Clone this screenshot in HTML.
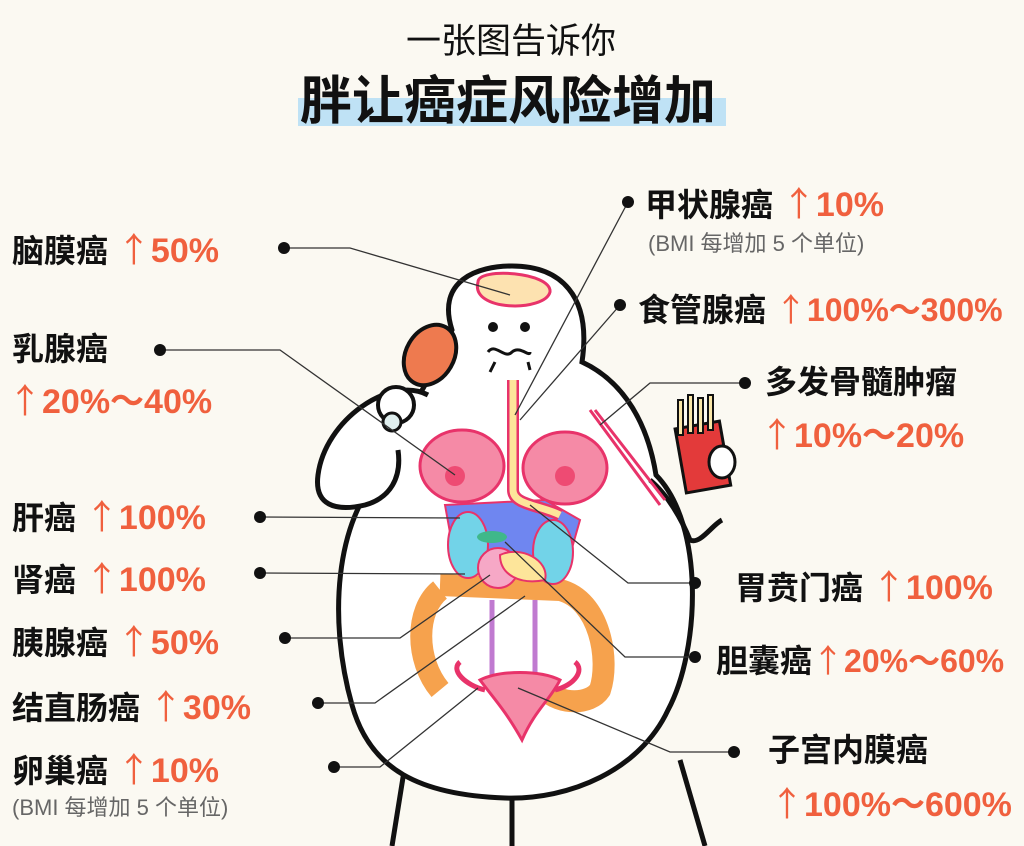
<!DOCTYPE html>
<html><head><meta charset="utf-8"><style>
body{margin:0;background:#fbf9f2;}
.w{position:relative;width:1024px;height:846px;overflow:hidden;font-family:"Liberation Sans","Noto Sans CJK SC",sans-serif;}
.t{position:absolute;white-space:nowrap;font-weight:bold;color:#111;font-size:32px;line-height:1;}
.o{color:#f0603e;font-size:34px;}
.a{font-family:"Noto Sans CJK SC",sans-serif;font-weight:normal;}
.s{position:absolute;white-space:nowrap;color:#666;font-size:22px;line-height:1;}
svg{position:absolute;left:0;top:0;}
</style></head><body><div class="w">
<svg width="1024" height="846" viewBox="0 0 1024 846">
<rect x="298" y="98" width="428" height="28" fill="#bfe2f5"/>
<path d="M405 765 L392 846 M680 760 L705 846 M512 795 L512 846" stroke="#111" stroke-width="5" fill="none"/>
<path d="M452 330 C436 280 478 266 512 266 C560 266 592 295 582 362 C625 382 648 425 656 475 C705 525 700 650 668 710 C640 770 570 800 505 798 C420 795 370 770 352 705 C328 620 335 520 383 472 C398 420 428 390 452 330 Z" fill="#fff" stroke="#111" stroke-width="5"/>
<path d="M428 395 C390 375 325 420 318 475 C314 505 335 512 365 505 C390 498 402 478 398 450" fill="#fff" stroke="#111" stroke-width="5"/>
<circle cx="396" cy="405" r="18" fill="#fff" stroke="#111" stroke-width="4"/>
<circle cx="392" cy="422" r="9" fill="#dfeeee" stroke="#111" stroke-width="3"/>
<ellipse cx="430" cy="355" rx="24" ry="32" transform="rotate(30 430 355)" fill="#ee7a4f" stroke="#111" stroke-width="4"/>
<path d="M650 480 C668 495 682 520 690 540 C700 545 712 525 722 520" fill="none" stroke="#111" stroke-width="5"/>
<rect x="680" y="425" width="45" height="65" transform="rotate(-10 700 455)" fill="#e33a3a" stroke="#111" stroke-width="3"/>
<g stroke="#111" stroke-width="2" fill="#f9e6a8"><rect x="678" y="400" width="5" height="35"/><rect x="688" y="395" width="5" height="38"/><rect x="698" y="398" width="5" height="35"/><rect x="708" y="395" width="5" height="35"/></g>
<ellipse cx="722" cy="462" rx="13" ry="16" fill="#fff" stroke="#111" stroke-width="3"/>
<path d="M478 282 C470 312 545 312 550 292 C552 272 478 267 478 282 Z" fill="#fde2b0" stroke="#e8336a" stroke-width="3"/>
<circle cx="493" cy="327" r="5" fill="#111"/><circle cx="525" cy="327" r="5" fill="#111"/>
<path d="M488 352 C495 342 505 360 512 352 C520 345 530 358 530 352 M490 372 L495 362 M530 370 L528 362" stroke="#111" stroke-width="3" fill="none"/>
<ellipse cx="462" cy="466" rx="42" ry="36" fill="#f58aa6" stroke="#e8336a" stroke-width="3"/>
<ellipse cx="565" cy="468" rx="42" ry="36" fill="#f58aa6" stroke="#e8336a" stroke-width="3"/>
<circle cx="455" cy="476" r="10" fill="#ee4b73"/><circle cx="565" cy="476" r="10" fill="#ee4b73"/>
<path d="M440 590 C415 610 415 660 440 690 M440 585 L560 590 C600 600 610 660 600 690 C590 705 560 705 545 690" fill="none" stroke="#f6a24d" stroke-width="22"/>
<path d="M445 505 L545 500 L580 520 L570 555 L455 560 Z" fill="#6f86f0" stroke="#e8336a" stroke-width="2"/>
<ellipse cx="468" cy="545" rx="20" ry="33" fill="#72d3e8" stroke="#e8336a" stroke-width="2"/>
<ellipse cx="553" cy="552" rx="20" ry="32" fill="#72d3e8" stroke="#e8336a" stroke-width="2"/>
<ellipse cx="498" cy="568" rx="20" ry="20" fill="#f6a8c6" stroke="#e8336a" stroke-width="2"/>
<path d="M500 555 C520 545 550 560 545 580 C520 585 500 575 500 555 Z" fill="#fde59a" stroke="#e8336a" stroke-width="2"/>
<ellipse cx="492" cy="537" rx="15" ry="6" fill="#3fb88a"/>
<path d="M513 380 L513 490 C513 505 540 505 560 515" fill="none" stroke="#e8336a" stroke-width="12"/>
<path d="M513 380 L513 490 C513 505 540 505 560 515" fill="none" stroke="#fde59a" stroke-width="7"/>
<path d="M492 600 L492 680 M535 600 L535 680" stroke="#c07ad0" stroke-width="5"/>
<path d="M480 680 C500 670 540 670 560 680 C550 700 535 710 522 740 C505 710 495 700 480 680 Z" fill="#f58aa6" stroke="#e8336a" stroke-width="3"/>
<path d="M485 690 C465 685 450 670 460 662 M555 690 C575 685 585 670 575 662" fill="none" stroke="#e8336a" stroke-width="5"/>
<path d="M590 410 L660 505 M595 410 L665 500" stroke="#e8336a" stroke-width="3"/>
<g stroke="#333" stroke-width="1.3" fill="none">
<path d="M284 248 L350 248 L510 295"/>
<path d="M160 350 L280 350 L455 475"/>
<path d="M628 202 L515 415"/>
<path d="M620 305 L520 420"/>
<path d="M745 383 L650 383 L600 425"/>
<path d="M260 517 L460 518"/>
<path d="M260 573 L465 574"/>
<path d="M285 638 L400 638 L490 575"/>
<path d="M318 703 L375 703 L525 596"/>
<path d="M334 767 L380 767 L478 688"/>
<path d="M695 583 L628 583 L530 505"/>
<path d="M695 657 L625 657 L505 542"/>
<path d="M734 752 L670 752 L518 688"/>
</g>
<g fill="#111"><circle cx="284" cy="248" r="6"/><circle cx="160" cy="350" r="6"/><circle cx="628" cy="202" r="6"/><circle cx="620" cy="305" r="6"/><circle cx="745" cy="383" r="6"/><circle cx="260" cy="517" r="6"/><circle cx="260" cy="573" r="6"/><circle cx="285" cy="638" r="6"/><circle cx="318" cy="703" r="6"/><circle cx="334" cy="767" r="6"/><circle cx="695" cy="583" r="6"/><circle cx="695" cy="657" r="6"/><circle cx="734" cy="752" r="6"/></g>
</svg>
<div class="t" style="left:406px;top:24px;font-weight:normal;font-size:35px;">一张图告诉你</div>
<div class="t" style="left:300px;top:76px;font-size:52px;">胖让癌症风险增加</div>
<div class="t" style="left:12px;top:231px;">脑膜癌 <span class="o"><span class="a">↑</span>50%</span></div>
<div class="t" style="left:12px;top:333px;">乳腺癌</div>
<div class="t o" style="left:8px;top:382px;"><span class="a">↑</span>20%～40%</div>
<div class="t" style="left:12px;top:498px;">肝癌 <span class="o"><span class="a">↑</span>100%</span></div>
<div class="t" style="left:12px;top:560px;">肾癌 <span class="o"><span class="a">↑</span>100%</span></div>
<div class="t" style="left:12px;top:623px;">胰腺癌 <span class="o"><span class="a">↑</span>50%</span></div>
<div class="t" style="left:12px;top:688px;">结直肠癌 <span class="o"><span class="a">↑</span>30%</span></div>
<div class="t" style="left:12px;top:751px;">卵巢癌 <span class="o"><span class="a">↑</span>10%</span></div>
<div class="s" style="left:12px;top:797px;">(BMI 每增加 5 个单位)</div>
<div class="t" style="left:645px;top:185px;">甲状腺癌 <span class="o"><span class="a">↑</span>10%</span></div>
<div class="s" style="left:648px;top:233px;">(BMI 每增加 5 个单位)</div>
<div class="t" style="left:638px;top:292px;">食管腺癌 <span class="o" style="font-size:32px"><span class="a">↑</span>100%～300%</span></div>
<div class="t" style="left:765px;top:366px;">多发骨髓肿瘤</div>
<div class="t o" style="left:760px;top:416px;"><span class="a">↑</span>10%～20%</div>
<div class="t" style="left:735px;top:568px;">胃贲门癌 <span class="o"><span class="a">↑</span>100%</span></div>
<div class="t" style="left:716px;top:643px;">胆囊癌<span class="o" style="font-size:32px"><span class="a">↑</span>20%～60%</span></div>
<div class="t" style="left:768px;top:734px;">子宫内膜癌</div>
<div class="t o" style="left:770px;top:785px;"><span class="a">↑</span>100%～600%</div>
</div></body></html>
